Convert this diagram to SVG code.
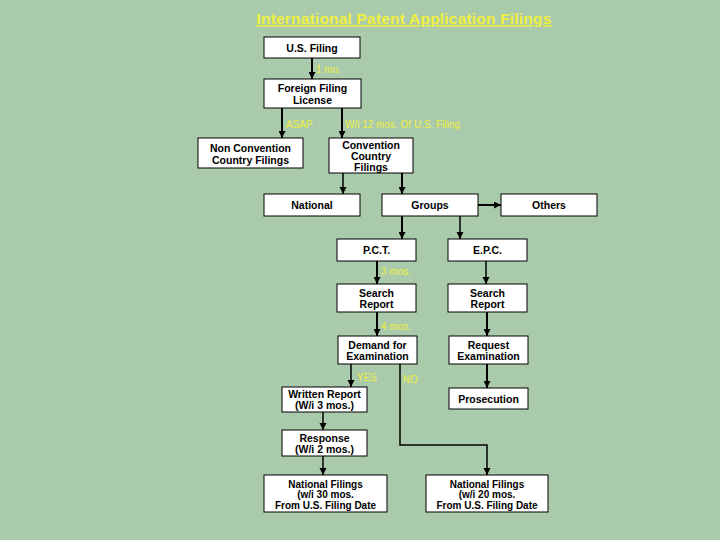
<svg xmlns="http://www.w3.org/2000/svg" width="720" height="540" viewBox="0 0 720 540">
<defs>
<marker id="ah" viewBox="0 0 10 10" refX="10" refY="5" markerWidth="3.5" markerHeight="3.5" markerUnits="strokeWidth" orient="auto">
<path d="M0,0 L10,5 L0,10 z" fill="#000"/>
</marker>
<marker id="ah2" viewBox="0 0 10 10" refX="10" refY="5" markerWidth="5" markerHeight="5" markerUnits="strokeWidth" orient="auto">
<path d="M0,0 L10,5 L0,10 z" fill="#000"/>
</marker>
<style>
.box{fill:#fff;stroke:#000;stroke-width:1}
.t{font-family:"Liberation Sans",Arial,sans-serif;font-size:10.5px;font-weight:bold;fill:#000;text-anchor:middle}
.s{font-size:10px}
.lbl{font-family:"Liberation Sans",Arial,sans-serif;font-size:10px;fill:#eeee44}
.c{fill:none;stroke:#000;stroke-width:2}
.c1{fill:none;stroke:#000;stroke-width:1.5}
.a{marker-end:url(#ah)}
.a1{marker-end:url(#ah2)}
</style>
</defs>
<rect width="720" height="540" fill="#aacbab"/>
<text x="404" y="24" font-family="'Liberation Sans',Arial,sans-serif" font-size="15.5" font-weight="bold" letter-spacing="0.2" fill="#f0f040" text-anchor="middle" text-decoration="underline">International Patent Application Filings</text>

<g id="connectors">
<path class="c a" d="M312,58 V79"/>
<path class="c a" d="M282,108 V138"/>
<path class="c a" d="M342,108 V138"/>
<path class="c1 a1" d="M343,173 V194"/>
<path class="c a" d="M402,173 V194"/>
<path class="c a" d="M478,205 H501"/>
<path class="c a" d="M402,216 V239"/>
<path class="c1 a1" d="M460,216 V239"/>
<path class="c a" d="M377,261 V284"/>
<path class="c1 a1" d="M486,261 V284"/>
<path class="c a" d="M377,312 V336"/>
<path class="c a" d="M487,312 V336"/>
<path class="c1 a1" d="M351,364 V387"/>
<path class="c a" d="M487,364 V388"/>
<path class="c1 a1" d="M323,412 V430"/>
<path class="c1 a1" d="M323,456 V475"/>
<path class="c1 a1" d="M400,364 V445 H487 V475"/>
</g>

<g id="labels">
<text class="lbl" x="316" y="73">1 mo.</text>
<text class="lbl" x="286" y="128">ASAP</text>
<text class="lbl" x="345" y="128">W/i 12 mos. Of U.S. Filing</text>
<text class="lbl" x="381" y="275">3 mos.</text>
<text class="lbl" x="381" y="330">4 mos.</text>
<text class="lbl" x="357" y="381">YES</text>
<text class="lbl" x="403" y="383">NO</text>
</g>

<g id="us-filing"><rect class="box" x="264" y="37" width="96" height="21"/><text class="t" x="312" y="51.5">U.S. Filing</text></g>
<g id="ffl"><rect class="box" x="264" y="79" width="97" height="29"/><text class="t" x="312.5" y="91.5">Foreign Filing</text><text class="t" x="312.5" y="103.5">License</text></g>
<g id="ncc"><rect class="box" x="198" y="138" width="105" height="30"/><text class="t" x="250.5" y="151.5">Non Convention</text><text class="t" x="250.5" y="163.5">Country Filings</text></g>
<g id="ccf"><rect class="box" x="329" y="138" width="84" height="35"/><text class="t" x="371" y="148.5">Convention</text><text class="t" x="371" y="160">Country</text><text class="t" x="371" y="171">Filings</text></g>
<g id="national"><rect class="box" x="264" y="194" width="96" height="22"/><text class="t" x="312" y="209">National</text></g>
<g id="groups"><rect class="box" x="382" y="194" width="96" height="22"/><text class="t" x="430" y="209">Groups</text></g>
<g id="others"><rect class="box" x="501" y="194" width="96" height="22"/><text class="t" x="549" y="209">Others</text></g>
<g id="pct"><rect class="box" x="337" y="239" width="79" height="22"/><text class="t" x="376.5" y="254">P.C.T.</text></g>
<g id="epc"><rect class="box" x="448" y="239" width="79" height="22"/><text class="t" x="487.5" y="254">E.P.C.</text></g>
<g id="sr-pct"><rect class="box" x="337" y="284" width="79" height="28"/><text class="t" x="376.5" y="296.5">Search</text><text class="t" x="376.5" y="308">Report</text></g>
<g id="sr-epc"><rect class="box" x="448" y="284" width="79" height="28"/><text class="t" x="487.5" y="296.5">Search</text><text class="t" x="487.5" y="308">Report</text></g>
<g id="demand"><rect class="box" x="338" y="336" width="79" height="28"/><text class="t" x="377.5" y="348.5">Demand for</text><text class="t" x="377.5" y="360">Examination</text></g>
<g id="request"><rect class="box" x="449" y="336" width="79" height="28"/><text class="t" x="488.5" y="348.5">Request</text><text class="t" x="488.5" y="360">Examination</text></g>
<g id="written"><rect class="box" x="282" y="387" width="85" height="25"/><text class="t" x="324.5" y="397.5">Written Report</text><text class="t" x="324.5" y="409">(W/i 3 mos.)</text></g>
<g id="prosecution"><rect class="box" x="449" y="388" width="79" height="21"/><text class="t" x="488.5" y="402.5">Prosecution</text></g>
<g id="response"><rect class="box" x="282" y="430" width="85" height="26"/><text class="t" x="324.5" y="441.5">Response</text><text class="t" x="324.5" y="453">(W/i 2 mos.)</text></g>
<g id="nf30"><rect class="box" x="264" y="475" width="123" height="37"/><text class="t s" x="325.5" y="487.5">National Filings</text><text class="t s" x="325.5" y="498">(w/i 30 mos.</text><text class="t s" x="325.5" y="508.5">From U.S. Filing Date</text></g>
<g id="nf20"><rect class="box" x="426" y="475" width="122" height="37"/><text class="t s" x="487" y="487.5">National Filings</text><text class="t s" x="487" y="498">(w/i 20 mos.</text><text class="t s" x="487" y="508.5">From U.S. Filing Date</text></g>
</svg>
